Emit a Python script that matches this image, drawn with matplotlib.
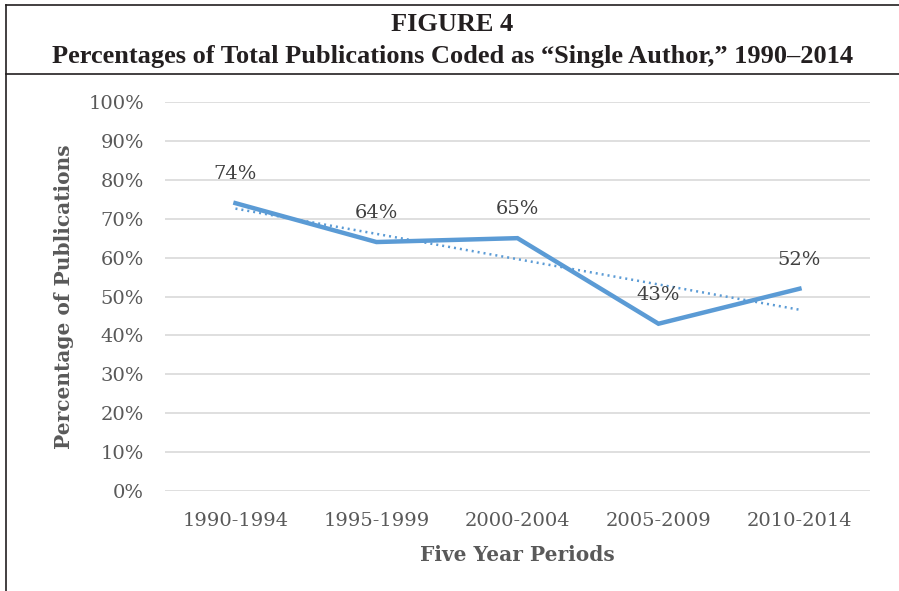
import numpy as np
import matplotlib.pyplot as plt
from matplotlib.lines import Line2D

periods = ['1990-1994', '1995-1999', '2000-2004', '2005-2009', '2010-2014']
single_author = [74, 64, 65, 43, 52]
y_ticks = [0, 10, 20, 30, 40, 50, 60, 70, 80, 90, 100]

blue = '#5B9BD5'
grey = '#595959'

fig = plt.figure(figsize=(8.99, 5.91), dpi=100)
ax = fig.add_axes([0.1835, 0.1692, 0.7842, 0.6582])

x = np.arange(len(periods))
ax.plot(x, single_author, color=blue, lw=3.2, solid_joinstyle='miter', zorder=3)

# linear trendline like excel
coef = np.polyfit(x, single_author, 1)
ax.plot(x, np.polyval(coef, x), color=blue, lw=1.8, ls=(0, (0.8, 1.6)), zorder=2)

for xi, v in zip(x, single_author):
    ax.annotate(f'{v}%', (xi, v), xytext=(0, 21), textcoords='offset points',
                ha='center', va='center', fontsize=14, color='#404040',
                family='DejaVu Serif')

ax.set_xlim(-0.5, len(periods) - 0.5)
ax.set_ylim(0, 100)
ax.set_yticks(y_ticks)
ax.set_yticklabels([f'{t}%' for t in y_ticks])
ax.set_xticks(x)
ax.set_xticklabels(periods)
ax.grid(axis='y', color='#D9D9D9', lw=1.2)
ax.set_axisbelow(True)
for s in ax.spines.values():
    s.set_visible(False)
ax.tick_params(length=0, labelsize=14, colors=grey)
for lab in ax.get_xticklabels() + ax.get_yticklabels():
    lab.set_family('DejaVu Serif')
ax.tick_params(axis='y', pad=15)
ax.tick_params(axis='x', pad=15)

ax.set_xlabel('Five Year Periods', family='DejaVu Serif', fontweight='bold',
              fontsize=14.5, color=grey, labelpad=11)
ax.set_ylabel('Percentage of Publications', family='DejaVu Serif', fontweight='bold',
              fontsize=14.5, color=grey, labelpad=10)

fig.text(0.503, 0.958, 'FIGURE 4', ha='center', va='center', family='Liberation Serif',
         fontweight='bold', fontsize=19, color='#231F20')
fig.text(0.503, 0.905, 'Percentages of Total Publications Coded as \u201cSingle Author,\u201d 1990\u20132014',
         ha='center', va='center', family='Liberation Serif', fontweight='bold',
         fontsize=19, color='#231F20')

# frame lines
fig.add_artist(Line2D([0.0067, 1], [0.9915, 0.9915], color='#231F20', lw=1.2))
fig.add_artist(Line2D([0.0067, 1], [0.875, 0.875], color='#231F20', lw=1.2))
fig.add_artist(Line2D([0.0067, 0.0067], [0, 0.9915], color='#231F20', lw=1.2))

fig.savefig('out.png', dpi=100)
